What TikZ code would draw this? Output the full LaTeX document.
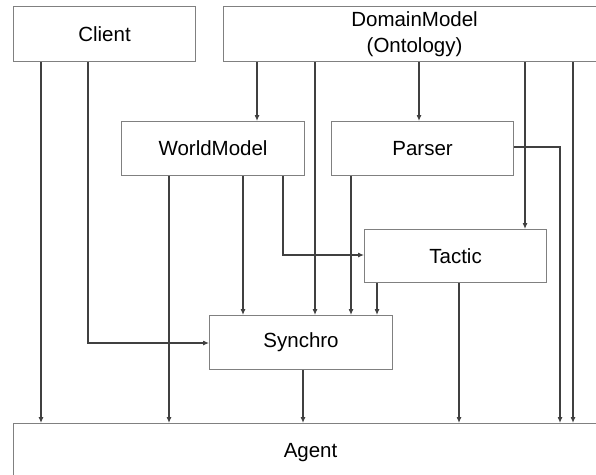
\documentclass[tikz,border=0pt]{standalone}
\usepackage{fontspec}
\setmainfont{Liberation Sans}
\usetikzlibrary{arrows.meta}

\begin{document}
\begin{tikzpicture}[
                x=1pt, y=-1pt,
                font=\fontsize{20.5}{26}\selectfont,
                line width=1.1pt,
                >={Latex[length=6pt,width=5pt]},
                % Stile per i blocchi (rettangoli)
                block/.style={
                    draw=black!50,
                    anchor=north west,
                    inner sep=0pt,
                    align=center
                },
                % Stile per i collegamenti
                link/.style={->, draw=black!75}
            ]

                \useasboundingbox (0,0) rectangle (596,474);
                \clip (0,0) rectangle (596,474);

                % ========================================================
                % 1. Blocchi superiori
                % ========================================================
                \node[block, minimum width=182pt, minimum height=55pt] (client) at (13,6) {Client};
                \node[block, minimum width=382pt, minimum height=55pt] (domain) at (223,6) {DomainModel\\(Ontology)};

                % ========================================================
                % 2. Blocchi intermedi
                % ========================================================
                \node[block, minimum width=183pt, minimum height=54pt] (world) at (121,121) {WorldModel};
                \node[block, minimum width=182pt, minimum height=54pt] (parser) at (331,121) {Parser};
                \node[block, minimum width=182pt, minimum height=53pt] (tactic) at (364,229) {Tactic};
                \node[block, minimum width=183pt, minimum height=54pt] (synchro) at (209,315) {Synchro};

                % ========================================================
                % 3. Blocco inferiore
                % ========================================================
                \node[block, minimum width=594pt, minimum height=58pt] (agent) at (13,423) {Agent};

                % ========================================================
                % 4. Collegamenti da Client
                % ========================================================
                \draw[link] (client.south -| 41,0) -- (agent.north -| 41,0);
                \draw[link] (client.south -| 88,0) -- (88,343) -- (synchro.west |- 0,343);

                % ========================================================
                % 5. Collegamenti da DomainModel
                % ========================================================
                \draw[link] (domain.south -| 257,0) -- (world.north -| 257,0);
                \draw[link] (domain.south -| 315,0) -- (synchro.north -| 315,0);
                \draw[link] (domain.south -| 419,0) -- (parser.north -| 419,0);
                \draw[link] (domain.south -| 525,0) -- (tactic.north -| 525,0);
                \draw[link] (domain.south -| 573,0) -- (agent.north -| 573,0);

                % ========================================================
                % 6. Collegamenti da WorldModel
                % ========================================================
                \draw[link] (world.south -| 169,0) -- (agent.north -| 169,0);
                \draw[link] (world.south -| 243,0) -- (synchro.north -| 243,0);
                \draw[link] (world.south -| 283,0) -- (283,255) -- (tactic.west |- 0,255);

                % ========================================================
                % 7. Collegamenti da Parser
                % ========================================================
                \draw[link] (parser.south -| 351,0) -- (synchro.north -| 351,0);
                \draw[link] (parser.east |- 0,147) -- (560,147) -- (agent.north -| 560,0);

                % ========================================================
                % 8. Collegamenti da Tactic e Synchro
                % ========================================================
                \draw[link] (tactic.south -| 377,0) -- (synchro.north -| 377,0);
                \draw[link] (tactic.south -| 459,0) -- (agent.north -| 459,0);
                \draw[link] (synchro.south -| 303,0) -- (agent.north -| 303,0);

            \end{tikzpicture}
\end{document}
